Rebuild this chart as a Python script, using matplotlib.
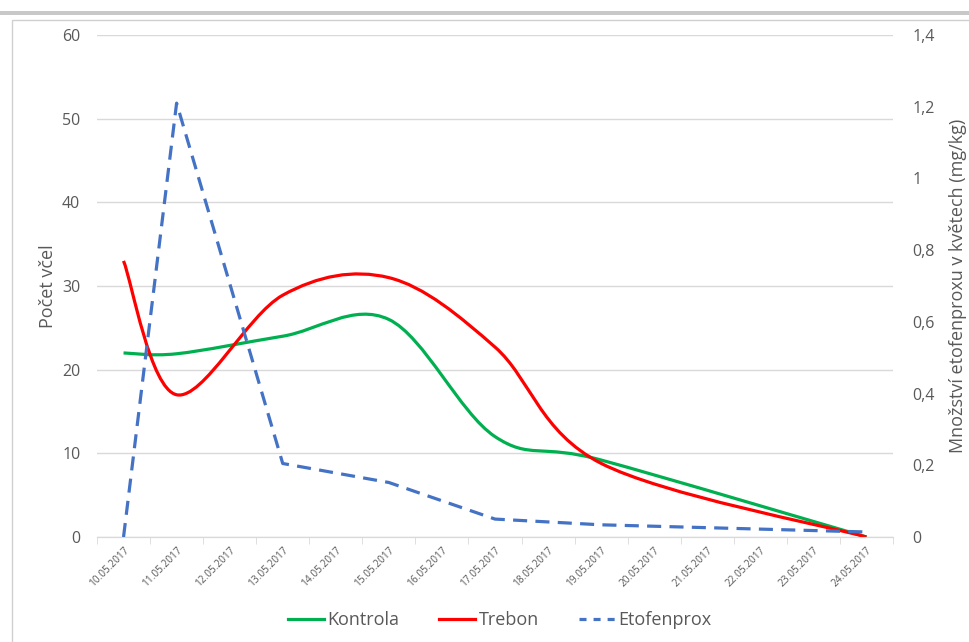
import numpy as np
import matplotlib
matplotlib.use('Agg')
import matplotlib.pyplot as plt
from matplotlib.path import Path
from matplotlib.patches import PathPatch, Rectangle
from matplotlib.lines import Line2D

plt.rcParams['font.family'] = ['Open Sans', 'DejaVu Sans']

# data
datumy = ['10.05.2017', '11.05.2017', '12.05.2017', '13.05.2017', '14.05.2017',
          '15.05.2017', '16.05.2017', '17.05.2017', '18.05.2017', '19.05.2017',
          '20.05.2017', '21.05.2017', '22.05.2017', '23.05.2017', '24.05.2017']
kontrola = [22, 21.9, None, 24, None, 26.0, None, 12, None, 9.2, None, None, None, None, 0]
trebon = [33, 17, None, 28.9, None, 31, None, 22.7, None, 8.8, None, None, None, None, 0]
etofenprox = [0, 1.21, None, 0.205, None, 0.152, None, 0.05, None, 0.034, None, None, None, None, 0.014]

ZELENA = '#00B050'
CERVENA = '#FF0000'
MODRA = '#4472C4'
SEDA = '#595959'
MRIZKA = '#D9D9D9'


def body(hodnoty):
    xs = [i for i, v in enumerate(hodnoty) if v is not None]
    ys = [v for v in hodnoty if v is not None]
    return np.array(xs, float), np.array(ys, float)


def vyhlazena_cesta(hodnoty):
    # Bezier smoothing like Excel smoothed lines
    xs, ys = body(hodnoty)
    P = np.column_stack([xs, ys])
    n = len(P)
    verts = [P[0]]
    codes = [Path.MOVETO]
    for i in range(n - 1):
        p_prev = P[i - 1] if i > 0 else P[i]
        p_next2 = P[i + 2] if i + 2 < n else P[i + 1]
        c1 = P[i] + (P[i + 1] - p_prev) / 6
        c2 = P[i + 1] - (p_next2 - P[i]) / 6
        verts += [c1, c2, P[i + 1]]
        codes += [Path.CURVE4] * 3
    return Path(verts, codes)


fig = plt.figure(figsize=(9.7, 6.42), dpi=100)

# chart frame
fig.patches.append(Rectangle((12 / 970, -0.05), 1.0, 1 - 20 / 642 + 0.05, transform=fig.transFigure,
                             fill=False, edgecolor='#D0D0D0', lw=1))
fig.patches.append(Rectangle((0, 1 - 15 / 642), 1.0, 4 / 642, transform=fig.transFigure,
                             facecolor='#C8C8C8', edgecolor='none'))

ax = fig.add_axes([97 / 970, 1 - 537 / 642, 796 / 970, 502 / 642])
ax2 = ax.twinx()

ax.set_xlim(-0.5, 14.5)
ax.set_ylim(0, 60)
ax2.set_ylim(0, 1.4)

ax.add_patch(PathPatch(vyhlazena_cesta(kontrola), fill=False, edgecolor=ZELENA, lw=2.3, zorder=3))
ax.add_patch(PathPatch(vyhlazena_cesta(trebon), fill=False, edgecolor=CERVENA, lw=2.3, zorder=3))
ex, ey = body(etofenprox)
ax2.plot(ex, ey, color=MODRA, lw=2.3, dashes=(4.4, 2.6), dash_capstyle='butt', zorder=3)

ax.set_yticks(np.arange(0, 61, 10))
ax2.set_yticks(np.arange(0, 1.41, 0.2))
ax2.set_yticklabels(['0', '0,2', '0,4', '0,6', '0,8', '1', '1,2', '1,4'])
ax.grid(axis='y', color=MRIZKA, lw=1)
ax.set_axisbelow(True)

ax.set_xticks(range(len(datumy)))
ax.set_xticklabels(datumy, rotation=45, ha='right', va='top', rotation_mode='anchor',
                   fontsize=7.3, color=SEDA)
ax.set_xticks(np.arange(-0.5, 14.6, 1), minor=True)
ax.tick_params(axis='x', which='major', length=0, pad=6)
ax.tick_params(axis='x', which='minor', length=5, color=MRIZKA)
ax.tick_params(axis='y', length=0, labelsize=11.5, labelcolor=SEDA, pad=12)
ax2.tick_params(axis='y', length=0, labelsize=11.5, labelcolor=SEDA, pad=14)

for a in (ax, ax2):
    for s in ('top', 'left', 'right'):
        a.spines[s].set_visible(False)
    a.spines['bottom'].set_color(MRIZKA)

ax.set_ylabel('Počet včel', fontsize=13, color=SEDA, labelpad=4)
ax2.set_ylabel('Množství etofenproxu v květech (mg/kg)', fontsize=13, color=SEDA, labelpad=10)

handles = [Line2D([], [], color=ZELENA, lw=2.3),
           Line2D([], [], color=CERVENA, lw=2.3),
           Line2D([], [], color=MODRA, lw=2.3, dashes=(2.2, 2.2))]
fig.legend(handles, ['Kontrola', 'Trebon', 'Etofenprox'], loc='center', bbox_to_anchor=(0.515, 1 - 620 / 642),
           ncol=3, frameon=False, fontsize=13, labelcolor=SEDA, handlelength=2.0,
           handletextpad=0.2, columnspacing=2.2)

fig.savefig('out.png', dpi=100)
